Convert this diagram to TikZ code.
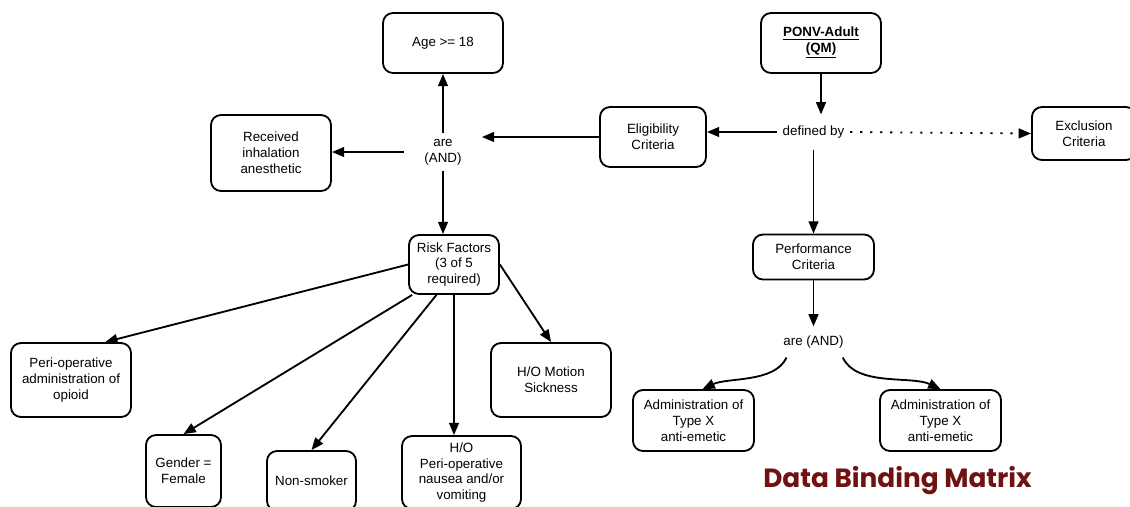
\documentclass[tikz,border=0pt]{standalone}
\usepackage{xcolor}
\usepackage{fontspec}
\setmainfont{Liberation Sans}
\newfontfamily\titlefont{Poppins}
\usepackage{tikz}
\usetikzlibrary{arrows.meta}
\definecolor{matrixred}{RGB}{112,18,18}
\tikzstyle{box} = [draw,line width=1.05pt,rounded corners=0.2cm,align=center,inner sep=1pt,minimum width=2.4cm,minimum height=1.2cm,font=\fontsize{7.6}{9}\selectfont]
\tikzstyle{link} = [align=center,font=\fontsize{7.6}{9}\selectfont]
\tikzstyle{arrow} = [line width=1.05pt,-{Triangle[length=7pt,width=5.6pt]}]

\begin{document}
\begin{tikzpicture}
            \useasboundingbox (0,0) rectangle (22.6,-10.12);
            \node[box] (age) at (8.86,-0.86) {Age >= 18};
            \node[box] (ponv) at (16.42,-0.86) {\textbf{\underline{PONV-Adult}}\\\textbf{\underline{(QM)}}};
            \node[box,minimum height=1.52cm] (recv) at (5.42,-3.06) {Received\\inhalation\\anesthetic};
            \node[link,inner xsep=0.4cm,inner ysep=0.12cm] (are) at (8.86,-3.04) {are\\(AND)};
            \node[box,minimum width=2.12cm] (elig) at (13.06,-2.74) {Eligibility\\Criteria};
            \node[link,inner xsep=0.11cm,inner ysep=0.22cm] (defby) at (16.27,-2.64) {defined by};
            \node[box,anchor=west,minimum width=2.08cm,minimum height=1.06cm] (excl) at (20.62,-2.67) {Exclusion\\Criteria};
            \node[box,minimum width=2.42cm,minimum height=0.9cm] (perf) at (16.27,-5.14) {Performance\\Criteria};
            \node[link,inner xsep=0.1cm,inner ysep=0.18cm] (arer) at (16.27,-6.84) {are (AND)};
            \node[box,minimum width=2.42cm,minimum height=1.22cm] (adma) at (13.87,-8.41) {Administration of\\Type X\\anti-emetic};
            \node[box,minimum width=2.42cm,minimum height=1.22cm] (admb) at (18.81,-8.41) {Administration of\\Type X\\anti-emetic};
            \node[box,minimum width=1.8cm,minimum height=1.18cm] (risk) at (9.08,-5.29) {Risk Factors\\(3 of 5\\required)};
            \node[box,minimum height=1.48cm] (opioid) at (1.42,-7.60) {Peri-operative\\administration of\\opioid};
            \node[box,minimum height=1.48cm] (motion) at (11.02,-7.60) {H/O Motion\\Sickness};
            \node[box,minimum width=1.5cm,minimum height=1.44cm] (gender) at (3.67,-9.42) {Gender =\\Female};
            \node[box,minimum width=1.78cm,minimum height=1.2cm] (smoker) at (6.23,-9.62) {Non-smoker};
            \node[box,minimum width=2.38cm,minimum height=1.46cm] (nausea) at (9.23,-9.45) {H/O\\Peri-operative\\nausea and/or\\vomiting};
            \node[anchor=base,text=matrixred,font=\titlefont\bfseries\fontsize{15}{17}\selectfont] (title) at (17.95,-9.74) {Data Binding Matrix};
            \draw[arrow] (ponv.south) -- (ponv.south |- defby.north);
            \draw[arrow] (defby.west) -- (defby.west -| elig.east);
            \draw[arrow,dash pattern=on 1.2pt off 4.5pt] (defby.east) -- (excl.west);
            \draw[arrow] (defby.south) -- (perf.north);
            \draw[arrow] (elig.west) -- (elig.west -| are.east);
            \draw[arrow] (are.north) -- (age.south);
            \draw[arrow] (are.west) -- (recv.east |- are.west);
            \draw[arrow] (are.south) -- (are.south |- risk.north);
            \draw[arrow] (risk.west) -- (opioid.48);
            \draw[arrow] (risk.216) -- (gender.north);
            \draw[arrow] (risk.240) -- (smoker.north);
            \draw[arrow] (risk.south) -- (risk.south |- nausea.north);
            \draw[arrow] (risk.east) -- (motion.north);
            \draw[arrow] (perf.south) -- (arer.north);
            \draw[arrow] (arer.210) to[out=-115,in=25,looseness=0.8] (adma.74);
            \draw[arrow] (arer.332) to[out=-65,in=155,looseness=0.8] (admb.north);
        \end{tikzpicture}
\end{document}
